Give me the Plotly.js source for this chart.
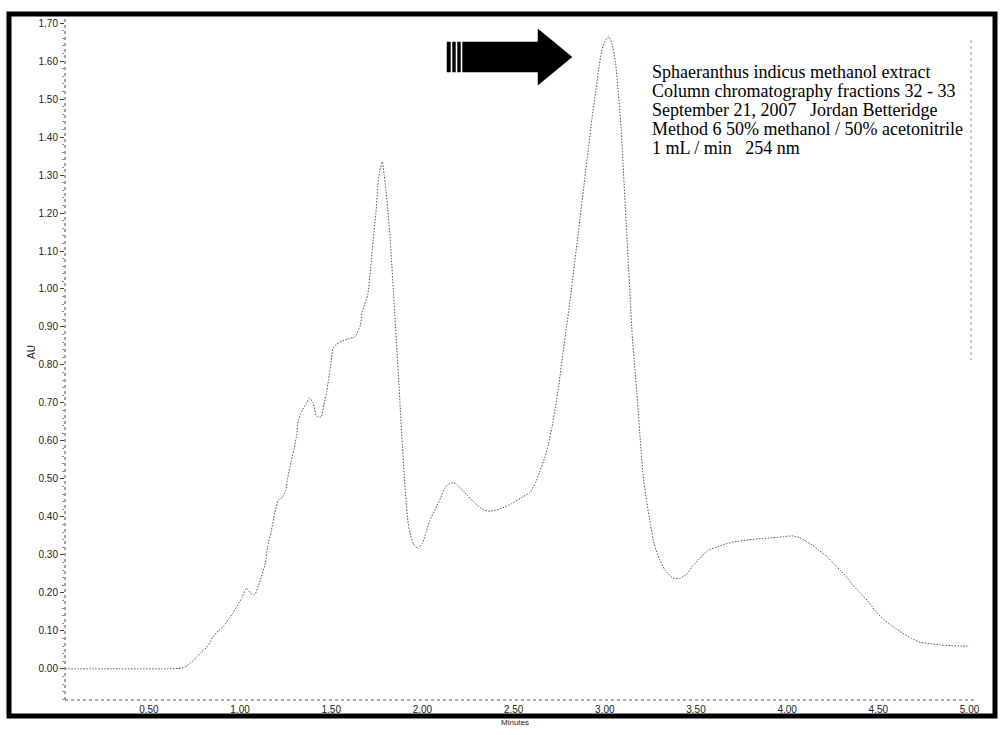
<!DOCTYPE html>
<html>
<head>
<meta charset="utf-8">
<script src="https://cdn.plot.ly/plotly-3.0.1.min.js"></script>
<style>
  html, body { margin: 0; padding: 0; background: #fff; }
  #chart { width: 1002px; height: 735px; }
</style>
</head>
<body>
<div id="chart"></div>
<script>
// ---- data ----
const retentionMin = [
  0.04, 0.30, 0.60, 0.68, 0.71, 0.76, 0.79, 0.82, 0.85, 0.88, 0.91, 0.96, 1.01, 1.035, 1.06, 1.08, 1.10,
  1.14, 1.15, 1.17, 1.19, 1.21, 1.23, 1.25, 1.26, 1.28, 1.30, 1.31, 1.32, 1.34, 1.365, 1.38, 1.40, 1.42, 1.445,
  1.46, 1.475, 1.485, 1.50, 1.51, 1.53, 1.56, 1.60, 1.63, 1.66, 1.67, 1.70, 1.715, 1.73, 1.745, 1.755, 1.765, 1.78,
  1.79, 1.80, 1.81, 1.82, 1.83, 1.84, 1.85, 1.86, 1.87, 1.88, 1.89, 1.90, 1.91, 1.92, 1.93, 1.95,
  1.975, 2.00, 2.02, 2.04, 2.07, 2.10, 2.12, 2.15, 2.17, 2.19, 2.22, 2.25, 2.28, 2.33, 2.37, 2.42, 2.49, 2.54,
  2.59, 2.62, 2.64, 2.67, 2.69, 2.71, 2.73, 2.75, 2.77, 2.79, 2.81, 2.83, 2.85, 2.87, 2.89, 2.91, 2.93, 2.95,
  2.97, 2.99, 3.02, 3.04, 3.06, 3.075, 3.09, 3.10, 3.11, 3.12, 3.13, 3.14, 3.15, 3.165, 3.18, 3.195, 3.21,
  3.23, 3.25, 3.27, 3.29, 3.33, 3.37, 3.41, 3.45, 3.48, 3.52, 3.56, 3.62, 3.67, 3.73, 3.79, 3.86, 3.92, 3.98,
  4.03, 4.07, 4.10, 4.14, 4.18, 4.22, 4.26, 4.29, 4.33, 4.36, 4.40, 4.44, 4.48, 4.52, 4.57, 4.63, 4.68, 4.73,
  4.79, 4.84, 4.90, 4.96, 5.00
];
const absorbanceAU = [
  0.000, 0.000, 0.000, 0.002, 0.008, 0.030, 0.045, 0.058, 0.084, 0.100, 0.113, 0.147, 0.187, 0.212, 0.198, 0.195, 0.218,
  0.280, 0.320, 0.360, 0.410, 0.445, 0.450, 0.470, 0.500, 0.545, 0.590, 0.615, 0.655, 0.680, 0.700, 0.713, 0.700, 0.665, 0.663,
  0.695, 0.730, 0.760, 0.810, 0.845, 0.855, 0.863, 0.870, 0.874, 0.905, 0.940, 0.985, 1.050, 1.130, 1.200, 1.270, 1.310, 1.335,
  1.300, 1.260, 1.210, 1.150, 1.080, 1.000, 0.920, 0.840, 0.760, 0.670, 0.590, 0.510, 0.440, 0.390, 0.360, 0.330,
  0.316, 0.330, 0.360, 0.390, 0.420, 0.450, 0.475, 0.488, 0.490, 0.485, 0.470, 0.455, 0.440, 0.420, 0.415, 0.420, 0.435, 0.450,
  0.465, 0.490, 0.515, 0.555, 0.590, 0.635, 0.690, 0.755, 0.830, 0.900, 0.970, 1.050, 1.130, 1.210, 1.290, 1.370, 1.450, 1.520,
  1.590, 1.640, 1.665, 1.645, 1.590, 1.510, 1.420, 1.330, 1.240, 1.150, 1.060, 0.970, 0.880, 0.790, 0.700, 0.600, 0.510,
  0.440, 0.380, 0.330, 0.300, 0.260, 0.240, 0.238, 0.250, 0.270, 0.290, 0.310, 0.322, 0.330, 0.336, 0.340, 0.343, 0.345, 0.348,
  0.350, 0.345, 0.337, 0.325, 0.310, 0.295, 0.275, 0.260, 0.240, 0.220, 0.200, 0.180, 0.155, 0.134, 0.115, 0.095, 0.080, 0.070,
  0.066, 0.063, 0.061, 0.060, 0.060
];
const xTickValues = [0.5, 1.0, 1.5, 2.0, 2.5, 3.0, 3.5, 4.0, 4.5, 5.0];
const yTickValues = [0.0, 0.1, 0.2, 0.3, 0.4, 0.5, 0.6, 0.7, 0.8, 0.9, 1.0, 1.1, 1.2, 1.3, 1.4, 1.5, 1.6, 1.7];
const infoLines = [
  "Sphaeranthus indicus methanol extract",
  "Column chromatography fractions 32 - 33",
  "September 21, 2007   Jordan Betteridge",
  "Method 6 50% methanol / 50% acetonitrile",
  "1 mL / min   254 nm"
];
const xTitle = "Minutes";
const yTitle = "AU";

// ---- layout geometry (pixels) ----
const W = 1002, H = 735;
const M = { l: 65, r: 27, t: 17, b: 35 };
const PW = W - M.l - M.r, PH = H - M.t - M.b;
const px = v => (v - M.l) / PW;          // pixel x -> paper x
const py = v => (H - M.b - v) / PH;      // pixel y -> paper y

const shapes = [];
// dotted axis lines
shapes.push({ type: 'line', xref: 'paper', yref: 'paper', x0: 0, x1: 0, y0: 0, y1: 1,
  line: { color: '#444', width: 1, dash: 'dot' } });
shapes.push({ type: 'line', xref: 'paper', yref: 'paper', x0: 0, x1: 1, y0: 0, y1: 0,
  line: { color: '#555', width: 1, dash: 'dot' } });
// faint dotted right edge
shapes.push({ type: 'line', xref: 'paper', yref: 'paper', x0: px(971), x1: px(971), y0: py(40), y1: py(360),
  line: { color: '#999', width: 1, dash: 'dot' } });
// thick outer frame
shapes.push({ type: 'rect', xref: 'paper', yref: 'paper', x0: px(9), x1: px(995), y0: py(716), y1: py(14),
  line: { color: '#000', width: 5 }, fillcolor: 'rgba(0,0,0,0)', layer: 'above' });
// block arrow
const ap = [[447, 42], [538, 42], [538, 29], [572, 57], [538, 85], [538, 72], [447, 72]];
shapes.push({ type: 'path', xref: 'paper', yref: 'paper',
  path: 'M ' + ap.map(p => px(p[0]) + ',' + py(p[1])).join(' L ') + ' Z',
  fillcolor: '#000', line: { color: '#000', width: 0.5 }, layer: 'above' });
[451.5, 456.5, 461.5].forEach(g => {
  shapes.push({ type: 'rect', xref: 'paper', yref: 'paper', x0: px(g - 0.8), x1: px(g + 0.8), y0: py(73), y1: py(41),
    fillcolor: '#fff', line: { width: 0 }, layer: 'above' });
});

const annotations = infoLines.map((t, i) => ({
  text: t, xref: 'paper', yref: 'paper', x: px(650), y: py(72 + i * 19),
  xanchor: 'left', yanchor: 'middle', showarrow: false,
  font: { family: 'Liberation Serif, Times New Roman, serif', size: 18, color: '#000' }
}));
annotations.push({ text: xTitle, xref: 'paper', yref: 'paper', x: px(515), y: py(722),
  xanchor: 'center', yanchor: 'middle', showarrow: false,
  font: { family: 'Liberation Sans, Arial, sans-serif', size: 8, color: '#222' } });
annotations.push({ text: yTitle, xref: 'paper', yref: 'paper', x: px(31), y: py(352),
  xanchor: 'center', yanchor: 'middle', showarrow: false, textangle: -90,
  font: { family: 'Liberation Sans, Arial, sans-serif', size: 10, color: '#222' } });

const trace = {
  x: retentionMin, y: absorbanceAU, type: 'scatter', mode: 'lines',
  line: { color: '#555', width: 1, dash: '1.5px,1.5px', shape: 'spline', smoothing: 0.5 },
  hoverinfo: 'skip'
};

const layout = {
  width: W, height: H,
  margin: M,
  paper_bgcolor: '#fff', plot_bgcolor: '#fff',
  showlegend: false,
  xaxis: {
    range: [0.04, 5.03], tickvals: xTickValues, tickformat: '.2f',
    showgrid: false, zeroline: false, showline: false, ticks: '',
    tickfont: { family: 'Liberation Sans, Arial, sans-serif', size: 10, color: '#222' },
    ticklabelstandoff: 2
  },
  yaxis: {
    range: [-0.082, 1.716], tickvals: yTickValues, tickformat: '.2f',
    showgrid: false, zeroline: false, showline: false,
    ticks: 'outside', ticklen: 4, tickwidth: 1, tickcolor: '#444',
    minor: { ticks: 'outside', ticklen: 2, tickwidth: 1, tickcolor: '#888', dtick: 0.02, tick0: 0, showgrid: false },
    tickfont: { family: 'Liberation Sans, Arial, sans-serif', size: 10, color: '#222' }
  },
  shapes: shapes,
  annotations: annotations
};

Plotly.newPlot('chart', [trace], layout, { displayModeBar: false, staticPlot: true });
</script>
</body>
</html>
